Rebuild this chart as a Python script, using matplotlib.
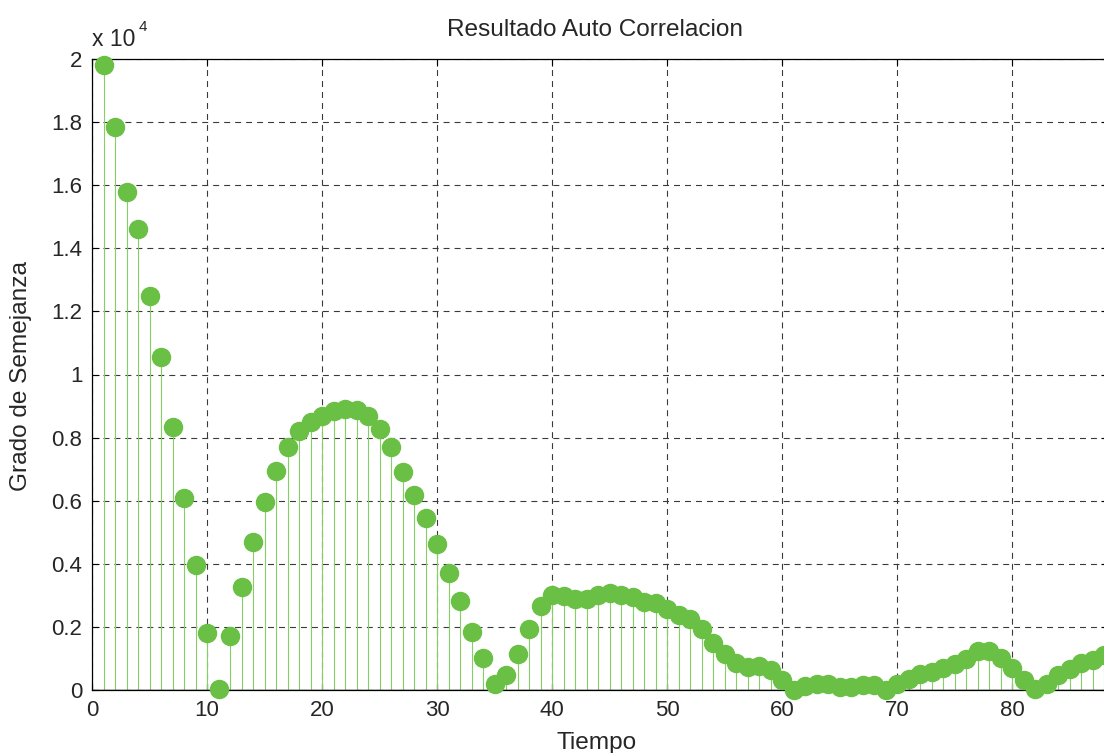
import numpy as np
import matplotlib.pyplot as plt
from matplotlib.ticker import FuncFormatter

# autocorrelation result, lags 1..88
lags = np.arange(1, 89)
corr = np.array([
    19800, 17850, 15800, 14600, 12500, 10550, 8330, 6100, 3950, 1820,
    20, 1700, 3250, 4700, 5950, 6950, 7700, 8200, 8500, 8700,
    8850, 8920, 8880, 8700, 8280, 7700, 6900, 6180, 5450, 4620,
    3720, 2820, 1850, 1030, 200, 470, 1150, 1920, 2650, 3000,
    2980, 2880, 2880, 3000, 3060, 3000, 2950, 2800, 2750, 2560,
    2380, 2260, 1920, 1500, 1150, 870, 740, 760, 620, 320,
    10, 130, 180, 180, 90, 90, 150, 150, 10, 180,
    360, 500, 560, 700, 810, 980, 1230, 1230, 1030, 700,
    320, 20, 200, 460, 670, 860, 940, 1120,
])

plt.rcParams['font.family'] = ['Liberation Sans', 'DejaVu Sans']
plt.rcParams['lines.scale_dashes'] = False

W, H = 1104, 753
fig = plt.figure(figsize=(W / 100, H / 100), dpi=100)
ax = fig.add_axes([92 / W, 1 - 690 / H, 1016 / W, (690 - 59) / H])

green = '#6abf45'
stem_col = '#86cf63'
ax.vlines(lags, 0, corr, color=stem_col, lw=0.8, zorder=2)
ax.plot(lags, corr, 'o', ms=13, color=green, mec=green, zorder=3, clip_on=False)
ax.axhline(0, color='black', lw=1.0, zorder=2)

ax.set_xlim(0, 1016 / 11.5)
ax.set_ylim(0, 20000)
ax.set_xticks(np.arange(0, 90, 10))
ax.set_yticks(np.arange(0, 20001, 2000))
ax.yaxis.set_major_formatter(FuncFormatter(lambda v, p: '%g' % (v / 1e4)))

ax.grid(True, color='#3a3a3a', lw=0.8, dashes=(4.3, 3.6))
ax.set_axisbelow(True)
ax.tick_params(direction='in', top=True, right=True, length=5, width=0.8,
               labelsize=16, labelcolor='#262626', pad=7)
for s in ax.spines.values():
    s.set_linewidth(0.9)
    s.set_color('black')

fig.text(595 / W, 1 - 30 / H, 'Resultado Auto Correlacion', ha='center',
         va='center', fontsize=17.6, color='#262626')
fig.text(597 / W, 1 - 743 / H, 'Tiempo', ha='center', va='center',
         fontsize=17.6, color='#262626')
fig.text(21 / W, 1 - 376 / H, 'Grado de Semejanza', ha='center',
         va='center', rotation=90, fontsize=17.6, color='#262626')
fig.text(92 / W, 1 - 46 / H, 'x 10', ha='left', va='baseline',
         fontsize=16.5, color='#262626')
fig.text(139 / W, 1 - 31 / H, '4', ha='left', va='baseline',
         fontsize=11, color='#262626')

fig.savefig('out.png', dpi=100)
